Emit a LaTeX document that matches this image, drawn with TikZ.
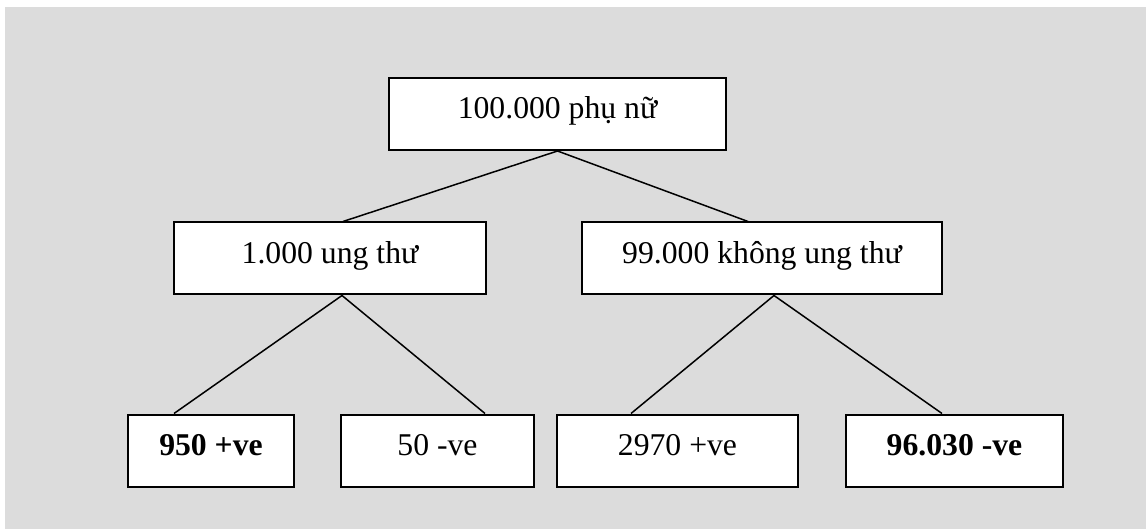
\documentclass[tikz,border=0pt]{standalone}
\usepackage{fontspec}
\setmainfont{Liberation Serif}
\usetikzlibrary{calc}
\definecolor{bggrey}{RGB}{220,220,220}
\tikzset{
  box/.style={draw=black, line width=2pt, fill=white, inner sep=0pt,
    text height=41pt, text depth=31pt, align=center,
    font=\fontsize{31.7}{38}\selectfont},
  link/.style={draw=black, line width=1.5pt}
}
\begin{document}
\begin{tikzpicture}[x=1pt,y=-1pt]
\useasboundingbox (0,0) rectangle (1146,529);
\fill[bggrey] (5,7) rectangle (1146,529);
\node[box, minimum width=337pt] (top) at (557.5,114) {100.000 phụ nữ};
\node[box, minimum width=312pt] (midL) at (330,258.5) {1.000 ung thư};
\node[box, minimum width=360pt] (midR) at (762,258.5) {99.000 không ung thư};
\node[box, minimum width=166pt, font=\fontsize{31.7}{38}\selectfont\bfseries] (b1) at (211,450.5) {950 +ve};
\node[box, minimum width=193pt] (b2) at (437.5,450.5) {50 -ve};
\node[box, minimum width=241pt] (b3) at (677.5,450.5) {2970 +ve};
\node[box, minimum width=217pt, font=\fontsize{31.7}{38}\selectfont\bfseries] (b4) at (954.5,450.5) {96.030 -ve};
\draw[link] ($(midL.north)+(13,0)$) -- (top.south) -- ($(midR.north)+(-14,0)$);
\draw[link] ($(b1.north)+(-37,0)$) -- ($(midL.south)+(12,0)$) -- ($(b2.north)+(47.5,0)$);
\draw[link] ($(b3.north)+(-46.5,0)$) -- ($(midR.south)+(12,0)$) -- ($(b4.north)+(-12.5,0)$);
\end{tikzpicture}
\end{document}
